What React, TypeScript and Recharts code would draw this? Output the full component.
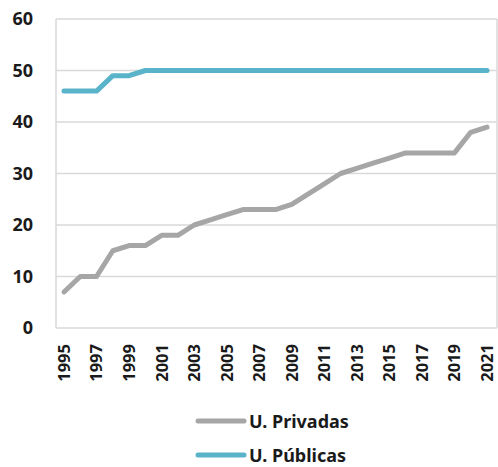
import { CartesianGrid, Legend, Line, LineChart, XAxis, YAxis } from 'recharts'

const years = [
  1995, 1996, 1997, 1998, 1999, 2000, 2001, 2002, 2003, 2004, 2005, 2006, 2007, 2008,
  2009, 2010, 2011, 2012, 2013, 2014, 2015, 2016, 2017, 2018, 2019, 2020, 2021,
]
const privadas = [7, 10, 10, 15, 16, 16, 18, 18, 20, 21, 22, 23, 23, 23, 24, 26, 28, 30, 31, 32, 33, 34, 34, 34, 34, 38, 39]
const publicas = [46, 46, 46, 49, 49, 50, 50, 50, 50, 50, 50, 50, 50, 50, 50, 50, 50, 50, 50, 50, 50, 50, 50, 50, 50, 50, 50]
const yTicks = [0, 10, 20, 30, 40, 50, 60]

const seriesList = [
  { key: 'privadas', name: 'U. Privadas', color: '#a6a6a6' },
  { key: 'publicas', name: 'U. Públicas', color: '#5ab4c9' },
]

const data = years.map((year, i) => ({ year, privadas: privadas[i], publicas: publicas[i] }))

const font = '"Noto Sans", "Open Sans", sans-serif'
const ink = '#1a1a1a'

function YearTick({ x, y, payload }: { x?: number; y?: number; payload?: { value: number } }) {
  const top = (y ?? 0) + 8
  return <text
    x={x}
    y={top}
    transform={`rotate(-90, ${x}, ${top})`}
    textAnchor="end"
    dy="0.36em"
    fill={ink}
    fontSize={16.5}
    fontWeight={700}
    fontFamily={font}
  >{payload?.value}</text>
}

function SeriesLegend() {
  return <div style={{ paddingLeft: 195, paddingTop: 9, fontFamily: font }}>
    {seriesList.map((s) => <div key={s.key} style={{ display: 'flex', alignItems: 'center', height: 34, lineHeight: '22px' }}>
      <svg width={52} height={8}><line x1={3} y1={4} x2={49} y2={4} stroke={s.color} strokeWidth={5} strokeLinecap="round" /></svg>
      <span style={{ fontSize: 18, fontWeight: 700, color: ink, marginLeft: 2 }}>{s.name}</span>
    </div>)}
  </div>
}

export default function App() {
  return <div style={{ position: 'absolute', left: 0, top: 0, background: '#fff' }}>
    <LineChart width={498} height={467} data={data} margin={{ top: 19, right: 1, left: 0, bottom: 0 }}>
      <CartesianGrid
        stroke="#d9d9d9"
        strokeWidth={1.5}
        verticalCoordinatesGenerator={({ offset }: any) => [offset.left, offset.left + offset.width]}
      />
      <XAxis
        dataKey="year"
        interval={1}
        padding={{ left: 8, right: 10 }}
        axisLine={false}
        tickLine={false}
        height={67}
        tick={<YearTick />}
      />
      <YAxis
        domain={[0, 60]}
        ticks={yTicks}
        width={56}
        axisLine={false}
        tickLine={false}
        tickSize={0}
        tickMargin={23}
        tick={{ fill: ink, fontSize: 18, fontWeight: 700, fontFamily: font }}
      />
      <Legend verticalAlign="bottom" height={72} content={<SeriesLegend />} />
      {seriesList.map((s) => <Line
        key={s.key}
        type="linear"
        dataKey={s.key}
        name={s.name}
        stroke={s.color}
        strokeWidth={5}
        strokeLinecap="round"
        strokeLinejoin="round"
        dot={false}
        activeDot={false}
        isAnimationActive={false}
      />)}
    </LineChart>
  </div>
}
